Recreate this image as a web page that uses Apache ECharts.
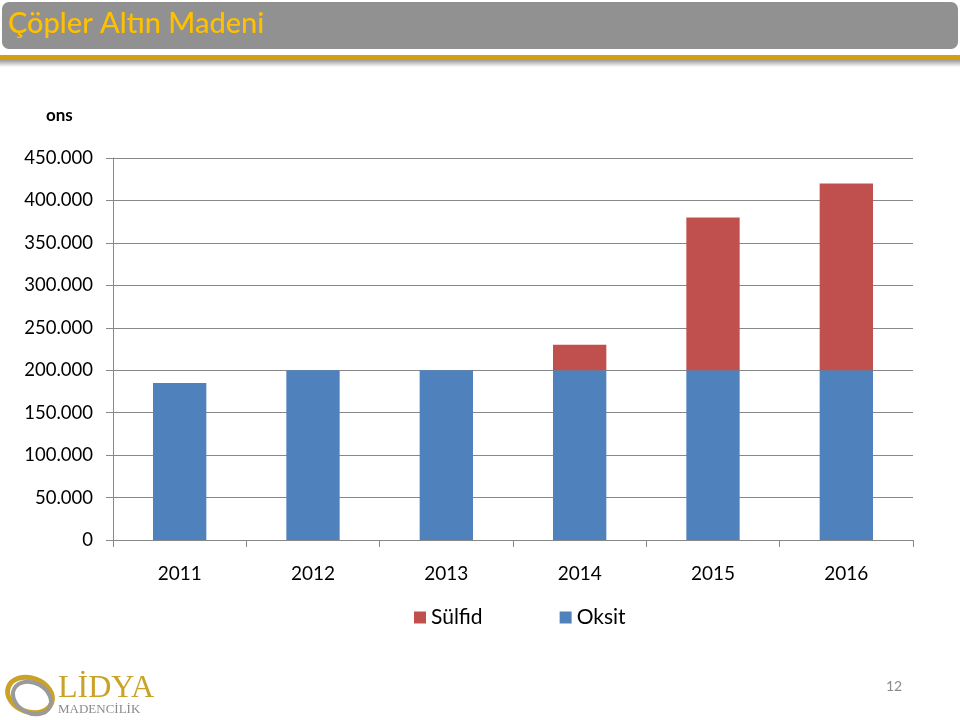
<!DOCTYPE html>
<html><head><meta charset="utf-8">
<script src="https://cdn.jsdelivr.net/npm/echarts@6/dist/echarts.min.js"></script>
<style>html,body{margin:0;padding:0;background:#fff}#c{width:960px;height:720px}</style>
</head><body><div id="c"></div>
<script>
const years = ['2011','2012','2013','2014','2015','2016'];
const oksit = [185000, 200000, 200000, 200000, 200000, 200000];
const sulfid = [null, null, null, 30000, 180000, 220000];
const yTicks = {min: 0, max: 450000, interval: 50000};

function fmt(v){ return v === 0 ? '0' : String(v).replace(/\B(?=(\d{3})+(?!\d))/g, '.'); }

const chart = echarts.init(document.getElementById('c'), null, {renderer:'canvas'});
chart.setOption({
  animation: false,
  backgroundColor: '#fff',
  grid: {left: 113, right: 47, top: 158, bottom: 180, containLabel: false},
  legend: {
    data: ['Sülfid','Oksit'], left: 409, top: 602, itemWidth: 12, itemHeight: 12, itemGap: 77,
    icon: 'rect',
    textStyle: {fontFamily: 'Lato', fontSize: 21, color: '#000', padding: [0,0,0,0]}
  },
  xAxis: {
    type: 'category', data: years, boundaryGap: true,
    axisLine: {lineStyle: {color: '#888', width: 1}},
    axisTick: {show: true, length: 7, lineStyle: {color: '#888'}},
    axisLabel: {fontFamily: 'Lato', fontSize: 19, color: '#000', margin: 24}
  },
  yAxis: {
    type: 'value', min: yTicks.min, max: yTicks.max, interval: yTicks.interval,
    axisLine: {show: true, lineStyle: {color: '#888'}},
    axisTick: {show: true, length: 7, lineStyle: {color: '#888'}},
    splitLine: {lineStyle: {color: '#888', width: 1}},
    axisLabel: {fontFamily: 'Lato', fontSize: 18.5, color: '#000', margin: 20, formatter: fmt}
  },
  series: [
    {name: 'Oksit', type: 'bar', stack: 's', data: oksit, barWidth: '40%', itemStyle: {color: '#4F81BD'}},
    {name: 'Sülfid', type: 'bar', stack: 's', data: sulfid, barWidth: '40%', itemStyle: {color: '#C0504D'}}
  ],
  graphic: [
    {type: 'rect', shape: {x: 2, y: 2, width: 956, height: 47, r: 7}, style: {fill: '#919191'}},
    {type: 'text', left: 8, top: 9, style: {text: 'Çöpler Altın Madeni', fontFamily: 'Lato', fontSize: 29, fontWeight: 500, fill: '#FFC000'}},
    {type: 'rect', shape: {x: 0, y: 60, width: 960, height: 7}, style: {fill: new echarts.graphic.LinearGradient(0,0,0,1,[{offset:0,color:'#9a9a9a'},{offset:1,color:'#ffffff'}])}},
    {type: 'rect', shape: {x: 0, y: 55, width: 960, height: 5}, style: {fill: '#D4A010'}},
    {type: 'text', left: 46, top: 107, style: {text: 'ons', fontFamily: 'Lato', fontSize: 17, fontWeight: 'bold', fill: '#000'}},
    {type: 'text', left: 886, top: 679, style: {text: '12', fontFamily: 'Lato', fontSize: 14, fill: '#8a8a8a'}},
    {type: 'ellipse', shape: {cx: 30, cy: 695, rx: 23, ry: 17}, rotation: -0.35, originX: 30, originY: 695, style: {fill: 'none', stroke: '#C9A227', lineWidth: 5}},
    {type: 'ellipse', shape: {cx: 32, cy: 698, rx: 20, ry: 15}, rotation: -0.5, originX: 32, originY: 698, style: {fill: 'none', stroke: '#9a9a9a', lineWidth: 4}},
    {type: 'text', left: 58, top: 673, style: {text: 'LİDYA', fontFamily: 'Liberation Serif', fontSize: 32, fill: '#C9A227'}},
    {type: 'text', left: 58, top: 703, style: {text: 'MADENCİLİK', fontFamily: 'Liberation Serif', fontSize: 13, fill: '#8a8a8a'}}
  ]
});
</script></body></html>
